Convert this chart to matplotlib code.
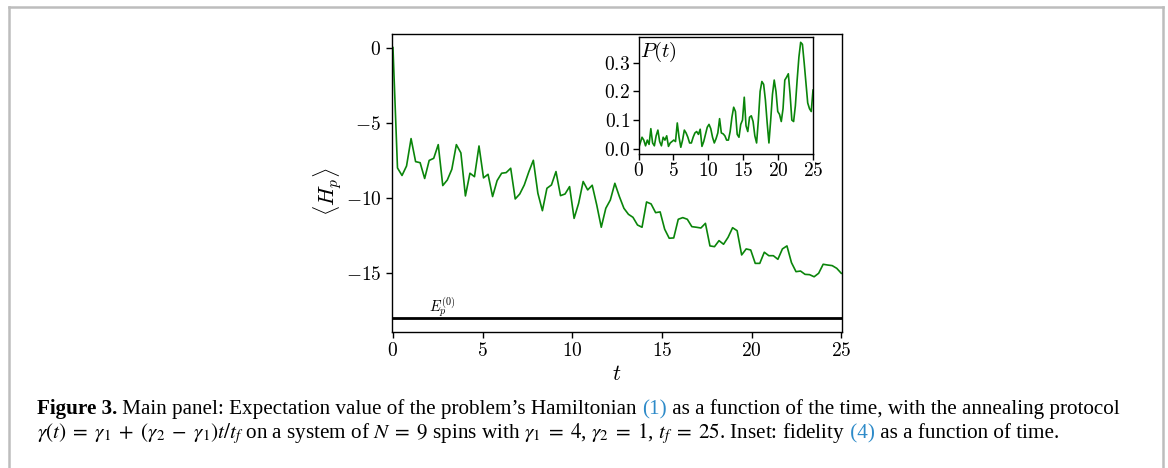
import numpy as np
import matplotlib
matplotlib.use("Agg")
import matplotlib.pyplot as plt
from matplotlib.ticker import FormatStrFormatter
from matplotlib.lines import Line2D

plt.rcParams['mathtext.fontset'] = 'cm'
plt.rcParams['font.family'] = ['Liberation Serif', 'DejaVu Serif']

# ---------------- data ----------------
n_points = 100
t_final = 25.0
t = np.linspace(0, t_final, n_points)

H_p = [0.0, -8.0, -8.5, -7.87, -6.05, -7.58, -7.65, -8.7, -7.5, -7.36,
       -6.45, -9.17, -8.8, -8.09, -6.45, -7.0, -9.86, -8.35, -8.58, -6.54,
       -8.66, -8.42, -9.9, -8.84, -8.35, -8.31, -8.02, -10.06, -9.73, -9.13,
       -8.26, -7.49, -9.68, -10.84, -9.35, -9.13, -8.24, -9.84, -9.73, -9.24,
       -11.35, -10.35, -8.9, -9.46, -9.15, -10.46, -11.94, -10.68, -10.13, -9.02,
       -9.9, -10.68, -11.08, -11.28, -11.79, -11.94, -10.26, -10.39, -10.97, -10.92,
       -12.07, -12.67, -12.65, -11.41, -11.3, -11.41, -11.9, -11.94, -11.99, -11.68,
       -13.18, -13.23, -12.83, -13.07, -12.61, -11.97, -12.17, -13.78, -13.38, -13.45,
       -14.34, -14.34, -13.6, -13.83, -13.83, -14.07, -13.38, -13.18, -14.29, -14.89,
       -14.85, -15.07, -15.09, -15.23, -15.0, -14.4, -14.45, -14.49, -14.67, -15.0]

P_t = [0.0, 0.02, 0.04, 0.03, 0.01, 0.03, 0.015, 0.07, 0.02, 0.01,
       0.045, 0.065, 0.025, 0.01, 0.04, 0.03, 0.045, 0.008, 0.02, 0.025,
       0.03, 0.025, 0.09, 0.04, 0.005, 0.03, 0.065, 0.055, 0.04, 0.02,
       0.02, 0.04, 0.055, 0.06, 0.05, 0.068, 0.008, 0.025, 0.05, 0.075,
       0.085, 0.07, 0.04, 0.02, 0.035, 0.055, 0.105, 0.055, 0.052, 0.045,
       0.03, 0.03, 0.06, 0.11, 0.145, 0.13, 0.05, 0.04, 0.085, 0.1,
       0.18, 0.08, 0.06, 0.11, 0.115, 0.095, 0.045, 0.02, 0.1, 0.2,
       0.235, 0.225, 0.17, 0.09, 0.02, 0.1, 0.19, 0.24, 0.2, 0.13,
       0.12, 0.095, 0.14, 0.24, 0.25, 0.262, 0.19, 0.1, 0.095, 0.15,
       0.24, 0.32, 0.372, 0.365, 0.3, 0.23, 0.16, 0.14, 0.13, 0.205]

E0 = -18.0

main_xticks = [0, 5, 10, 15, 20, 25]
main_yticks = [0, -5, -10, -15]
inset_yticks = [0.0, 0.1, 0.2, 0.3]

# ---------------- figure ----------------
W, H = 1168, 468
fig = plt.figure(figsize=(W / 100, H / 100), dpi=100)

green = '#0a850a'
tick_fs = 14

ax = fig.add_axes([391.7 / W, 1 - 332 / H, (842 - 391.7) / W, (332 - 34) / H])
ax.plot(t, H_p, color=green, lw=1.2)
ax.axhline(E0, color='black', lw=2.0)
ax.text(2.0, -17.55, r'$E_p^{(0)}$', fontsize=10.5, va='baseline', ha='left')
ax.set_xlim(-0.07, 25.04)
ax.set_ylim(-18.9, 0.9)
ax.set_xticks(main_xticks)
ax.set_yticks(main_yticks)
ax.xaxis.set_major_formatter(FormatStrFormatter('$%d$'))
ax.yaxis.set_major_formatter(FormatStrFormatter('$%d$'))
ax.tick_params(labelsize=tick_fs, length=4, width=1.0, direction='out')
for s in ax.spines.values():
    s.set_linewidth(1.0)
ax.set_xlabel('$t$', fontsize=16, labelpad=4)
ax.set_ylabel(r'$\langle H_p \rangle$', fontsize=16)
ax.yaxis.set_label_coords(-0.106, 0.47)

ins = fig.add_axes([638.5 / W, 1 - 154 / H, (813 - 638.5) / W, (154 - 37) / H])
ins.plot(t, P_t, color=green, lw=1.2)
ins.set_xlim(0, 25)
ins.set_ylim(-0.0186, 0.3906)
ins.set_xticks(main_xticks)
ins.set_yticks(inset_yticks)
ins.xaxis.set_major_formatter(FormatStrFormatter('$%d$'))
ins.yaxis.set_major_formatter(FormatStrFormatter('$%.1f$'))
ins.tick_params(labelsize=tick_fs, length=4, width=1.0, direction='out', pad=2)
for s in ins.spines.values():
    s.set_linewidth(1.0)
ins.text(0.01, 0.975, '$P(t)$', transform=ins.transAxes, fontsize=15, va='top', ha='left')

# ---------------- border ----------------
gray = '#bdbdbd'
bx0, by0, bx1 = 8.5 / W, 1 - 6.5 / H, 1162.5 / W
for xs, ys in [([bx0, bx0], [0, by0]), ([bx0, bx1], [by0, by0]), ([bx1, bx1], [by0, 0])]:
    fig.add_artist(Line2D(xs, ys, transform=fig.transFigure, color=gray, lw=1.8))

# ---------------- caption ----------------
blue = '#2e8bc9'
line1 = [("Figure 3.", dict(fontweight='bold')),
         (" Main panel: Expectation value of the problem\u2019s Hamiltonian ", {}),
         ("(1)", dict(color=blue)),
         (" as a function of the time, with the annealing protocol", {})]
line2 = [(r"$\gamma(t)\;=\;\gamma_1\;+\;(\gamma_2\;-\;\gamma_1)t/t_f$ on a system of "
          r"$N\;=\;9$ spins with $\gamma_1\;=\;4$, $\gamma_2\;=\;1$, $t_f\;=\;25$. "
          r"Inset: fidelity", {}),
         (" (4)", dict(color=blue)),
         (" as a function of time.", {})]

renderer = fig.canvas.get_renderer()


def draw_runs(runs, x0, y, size):
    x = x0
    arts = []
    for txt, kw in runs:
        a = fig.text(x, y, txt, fontsize=size, va='baseline', ha='left',
                     math_fontfamily='stix', **kw)
        bb = a.get_window_extent(renderer)
        x += bb.width / fig.bbox.width
        arts.append(a)
    return arts, (x - x0) * fig.bbox.width


base = 14.0
arts, width = draw_runs(line1, 37 / W, 1 - 414 / H, base)
for a in arts:
    a.remove()
cap_size = base * (1122 - 37) / width
draw_runs(line1, 37 / W, 1 - 414 / H, cap_size)
draw_runs(line2, 37 / W, 1 - 438 / H, cap_size)

fig.savefig('out.png', dpi=100)
